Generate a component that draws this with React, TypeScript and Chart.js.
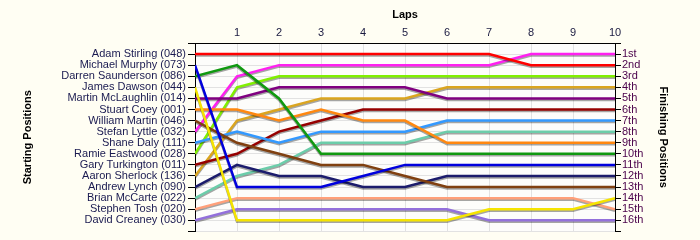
import React, { useEffect, useRef } from 'react';
import { Chart, registerables } from 'chart.js';

Chart.register(...registerables);

const laps = [0, 1, 2, 3, 4, 5, 6, 7, 8, 9, 10];

const drivers = [
  'Adam Stirling (048)',
  'Michael Murphy (073)',
  'Darren Saunderson (086)',
  'James Dawson (044)',
  'Martin McLaughlin (014)',
  'Stuart Coey (001)',
  'William Martin (046)',
  'Stefan Lyttle (032)',
  'Shane Daly (111)',
  'Ramie Eastwood (028)',
  'Gary Turkington (011)',
  'Aaron Sherlock (136)',
  'Andrew Lynch (090)',
  'Brian McCarte (022)',
  'Stephen Tosh (020)',
  'David Creaney (030)',
];

const finishingLabels = [
  '1st', '2nd', '3rd', '4th', '5th', '6th', '7th', '8th',
  '9th', '10th', '11th', '12th', '13th', '14th', '15th', '16th',
];

// positions per lap (lap 0 .. lap 10)
const adamStirling = [1, 1, 1, 1, 1, 1, 1, 1, 2, 2, 2];
const michaelMurphy = [2, 13, 13, 13, 12, 11, 11, 11, 11, 11, 11];
const darrenSaunderson = [3, 2, 5, 10, 10, 10, 10, 10, 10, 10, 10];
const jamesDawson = [4, 16, 16, 16, 16, 16, 16, 15, 15, 15, 14];
const martinMcLaughlin = [5, 5, 4, 4, 4, 4, 5, 5, 5, 5, 5];
const stuartCoey = [6, 6, 7, 6, 7, 7, 9, 9, 9, 9, 9];
const williamMartin = [7, 9, 10, 11, 11, 12, 13, 13, 13, 13, 13];
const stefanLyttle = [8, 3, 2, 2, 2, 2, 2, 2, 1, 1, 1];
const shaneDaly = [9, 8, 9, 8, 8, 8, 7, 7, 7, 7, 7];
const ramieEastwood = [10, 4, 3, 3, 3, 3, 3, 3, 3, 3, 3];
const garyTurkington = [11, 10, 8, 7, 6, 6, 6, 6, 6, 6, 6];
const aaronSherlock = [12, 7, 6, 5, 5, 5, 4, 4, 4, 4, 4];
const andrewLynch = [13, 11, 12, 12, 13, 13, 12, 12, 12, 12, 12];
const brianMcCarte = [14, 12, 11, 9, 9, 9, 8, 8, 8, 8, 8];
const stephenTosh = [15, 14, 14, 14, 14, 14, 14, 14, 14, 14, 15];
const davidCreaney = [16, 15, 15, 15, 15, 15, 15, 16, 16, 16, 16];

const series = [
  adamStirling, michaelMurphy, darrenSaunderson, jamesDawson,
  martinMcLaughlin, stuartCoey, williamMartin, stefanLyttle,
  shaneDaly, ramieEastwood, garyTurkington, aaronSherlock,
  andrewLynch, brianMcCarte, stephenTosh, davidCreaney,
];

const colors = [
  '#FF0000', '#0000DD', '#109910', '#F5E400',
  '#800080', '#FF8810', '#804010', '#FF20F0',
  '#3399FF', '#80F000', '#960000', '#DAA520',
  '#1C1C6C', '#6CCDAA', '#FFA07A', '#9370DB',
];

const FONT = "'Liberation Sans', Arial, sans-serif";

const bgPlugin = {
  id: 'bg',
  beforeDraw(chart: any) {
    const { ctx, chartArea } = chart;
    ctx.save();
    ctx.fillStyle = '#FFFEF3';
    ctx.fillRect(0, 0, chart.width, chart.height);
    ctx.fillStyle = '#FDFDFB';
    ctx.fillRect(chartArea.left, chartArea.top, chartArea.right - chartArea.left, chartArea.bottom - chartArea.top);
    ctx.restore();
  },
};

const shadowPlugin = {
  id: 'shadow',
  beforeDatasetsDraw(chart: any) {
    const ctx = chart.ctx;
    ctx.save();
    ctx.shadowColor = 'rgba(0,0,0,0.35)';
    ctx.shadowOffsetX = 0;
    ctx.shadowOffsetY = 1.5;
    ctx.shadowBlur = 0.5;
  },
  afterDatasetsDraw(chart: any) {
    chart.ctx.restore();
  },
};

export default function App() {
  const ref = useRef<HTMLCanvasElement | null>(null);

  useEffect(() => {
    if (!ref.current) return;
    const datasets = series.map((s, i) => ({
      label: drivers[i],
      data: laps.map((l, j) => ({ x: l, y: s[j] })),
      borderColor: colors[i],
      backgroundColor: colors[i],
      borderWidth: 2.5,
      pointRadius: 0,
      tension: 0,
      fill: false,
      yAxisID: 'y',
    }));

    const chart = new Chart(ref.current, {
      type: 'line',
      data: { datasets },
      plugins: [bgPlugin, shadowPlugin],
      options: {
        animation: false,
        responsive: false,
        devicePixelRatio: 1,
        layout: { padding: { left: 0, right: 0, top: 0, bottom: 8 } },
        plugins: { legend: { display: false }, tooltip: { enabled: false } },
        scales: {
          x: {
            type: 'linear',
            position: 'top',
            min: 0,
            max: 10,
            afterFit: (s: any) => { s.height = 43; },
            ticks: {
              stepSize: 1,
              padding: 3,
              color: '#1a1a40',
              font: { family: FONT, size: 11 },
              callback: (v: any) => (v === 0 ? '' : String(v)),
            },
            grid: { color: '#E2E2E2', lineWidth: 1, drawTicks: false },
            border: { color: '#000000', width: 1 },
            title: {
              display: true,
              text: 'Laps',
              color: '#000000',
              font: { family: FONT, size: 11, weight: 'bold' },
              padding: { top: 8, bottom: 0 },
            },
          },
          y: {
            type: 'linear',
            position: 'left',
            reverse: true,
            min: 0,
            max: 17,
            afterFit: (s: any) => { s.width = 195; },
            ticks: {
              stepSize: 1,
              autoSkip: false,
              padding: 2,
              color: '#1a1a50',
              font: { family: FONT, size: 11 },
              callback: (v: any) => drivers[v - 1] ?? '',
            },
            grid: { color: '#E2E2E2', lineWidth: 1, tickLength: 7, tickColor: '#000000' },
            border: { color: '#000000', width: 1 },
            title: {
              display: true,
              text: 'Starting Positions',
              color: '#000000',
              font: { family: FONT, size: 11, weight: 'bold' },
              padding: { top: 21, bottom: 0 },
            },
          },
          y2: {
            type: 'linear',
            position: 'right',
            reverse: true,
            min: 0,
            max: 17,
            afterFit: (s: any) => { s.width = 85; },
            ticks: {
              stepSize: 1,
              autoSkip: false,
              padding: 1,
              color: '#4a004a',
              font: { family: FONT, size: 11 },
              callback: (v: any) => finishingLabels[v - 1] ?? '',
            },
            grid: { drawOnChartArea: false, tickLength: 6, tickColor: '#000000' },
            border: { color: '#000000', width: 1 },
            title: {
              display: true,
              text: 'Finishing Positions',
              color: '#000000',
              font: { family: FONT, size: 11, weight: 'bold' },
              padding: { top: 30, bottom: 0 },
            },
          },
        },
      },
    } as any);

    return () => chart.destroy();
  }, []);

  return (
    <div style={{ position: 'absolute', left: 0, top: 0, width: 700, height: 240 }}>
      <canvas ref={ref} width={700} height={240} style={{ display: 'block', width: 700, height: 240 }} />
    </div>
  );
}
